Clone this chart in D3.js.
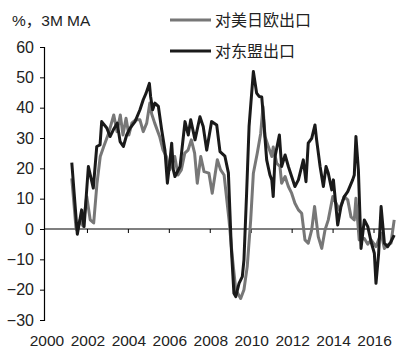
<!DOCTYPE html>
<meta charset="utf-8">
<style>
  body { margin: 0; background: #fff; }
  text { font-family: "Liberation Sans", Arial, "Noto Sans CJK SC", sans-serif; fill: #222; }
  .cjk { font-family: "Noto Sans CJK SC", sans-serif; }
</style>
<script src="https://d3js.org/d3.v7.min.js"></script>
<body>
<script>
// series: decimal year -> % yoy (3M MA)
var usJpEuYears = [2001.26, 2001.47, 2001.54, 2001.66, 2001.81, 2001.99, 2002.16, 2002.33, 2002.49, 2002.65,
  2002.82, 2003.06, 2003.31, 2003.47, 2003.63, 2003.76, 2003.91, 2004.05, 2004.20, 2004.39, 2004.59, 2004.75,
  2004.92, 2005.07, 2005.16, 2005.31, 2005.55, 2005.72, 2005.88, 2006.04, 2006.29, 2006.45, 2006.61, 2006.78,
  2006.94, 2007.10, 2007.26, 2007.39, 2007.56, 2007.72, 2007.96, 2008.12, 2008.37, 2008.53, 2008.70, 2008.94,
  2009.10, 2009.27, 2009.51, 2009.67, 2009.83, 2010.00, 2010.13, 2010.32, 2010.49, 2010.60, 2010.70, 2010.86,
  2011.03, 2011.10, 2011.27, 2011.43, 2011.51, 2011.68, 2011.84, 2012.00, 2012.16, 2012.33, 2012.49, 2012.65,
  2012.81, 2012.98, 2013.12, 2013.30, 2013.47, 2013.63, 2013.79, 2014.01, 2014.17, 2014.33, 2014.57, 2014.74,
  2014.90, 2015.06, 2015.14, 2015.30, 2015.55, 2015.72, 2015.88, 2016.12, 2016.37, 2016.53, 2016.69, 2016.85,
  2017.01];
var usJpEuVals = [16.7, 0, -0.5, 3, 1, 10.7, 3, 2, 15, 23.9,
  27.2, 31.6, 37.6, 32.1, 37.6, 31, 36.5, 31, 35, 36, 36, 32.1,
  34.9, 41.5, 38, 34.9, 30.5, 26, 23.9, 19.5, 23.9, 17.8, 19.5, 25,
  26, 29.4, 25, 15.1, 23.9, 18.9, 18.4, 11.8, 22.8, 19.5, 17.8, 3,
  -9.1, -20, -22.9, -20, -12.4, 3, 18.4, 25, 31.6, 40.4, 30.5, 27.2,
  23.9, 27, 21.7, 20.6, 15.1, 17.3, 14, 11.8, 8.5, 6.3, 5.2, -3.6,
  -4.7, -0.3, 7.4, -2.5, -6.4, -0.3, 3, 10.7, 8.5, 6.3, 10.7, 9.6,
  4, 3, 10.1, -3.6, -3.1, -5, -3.6, -5.8, -1.4, -6.4, -5.3, -4.7,
  3];

var aseanYears = [2001.26, 2001.53, 2001.74, 2001.86, 2002.07, 2002.31, 2002.48, 2002.64, 2002.72, 2002.97,
  2003.13, 2003.29, 2003.48, 2003.62, 2003.78, 2003.94, 2004.10, 2004.35, 2004.59, 2004.75, 2004.89, 2005.05,
  2005.11, 2005.21, 2005.32, 2005.49, 2005.65, 2005.81, 2005.93, 2006.06, 2006.14, 2006.22, 2006.30, 2006.55,
  2006.79, 2006.95, 2007.07, 2007.28, 2007.52, 2007.68, 2007.85, 2008.09, 2008.34, 2008.50, 2008.74, 2008.91,
  2009.05, 2009.18, 2009.27, 2009.43, 2009.59, 2009.67, 2009.80, 2009.92, 2010.13, 2010.29, 2010.41, 2010.54,
  2010.62, 2010.78, 2010.94, 2011.03, 2011.10, 2011.19, 2011.40, 2011.51, 2011.68, 2011.84, 2012.00, 2012.16,
  2012.33, 2012.49, 2012.57, 2012.70, 2012.81, 2012.98, 2013.14, 2013.22, 2013.39, 2013.55, 2013.68, 2013.79,
  2013.96, 2014.04, 2014.25, 2014.41, 2014.57, 2014.74, 2014.98, 2015.06, 2015.14, 2015.26, 2015.39, 2015.55,
  2015.72, 2015.88, 2016.04, 2016.12, 2016.25, 2016.37, 2016.53, 2016.69, 2016.85, 2017.01];
var aseanVals = [21.9, -1.7, 6.3, 0.8, 20.6, 13.5, 27.2, 27.7, 35.4, 33.3,
  30.5, 32.7, 34.9, 28.8, 27.2, 31, 33.2, 35.4, 39.3, 42.6, 44.8, 48,
  43.7, 39.3, 41.5, 40.4, 32.7, 26, 15.1, 22.8, 28.3, 19.5, 17.3, 20.6,
  35.4, 31, 36, 29.4, 37, 33.8, 26, 35.4, 34.3, 25.5, 24, 18.5,
  -5.8, -21.2, -22.3, -17.9, -15.7, -10.2, 11.8, 33.8, 51.9, 44.8, 43.7, 43.5,
  37, 22.8, 17.8, 16.2, 10.7, 23.9, 31, 20.6, 24.4, 20.6, 17.3, 14,
  16.2, 20.6, 22.8, 15.6, 28.3, 29.9, 34.3, 29.4, 20.6, 14, 20.6, 18.4,
  12.9, 16.2, 1.3, 7.4, 10.7, 12.3, 16.2, 17.8, 30.5, 19.5, -6.4, 3,
  0.8, -4.2, -8, -17.9, -8, 7.4, -4.7, -5.8, -4.2, -2];

var yTicks = [60, 50, 40, 30, 20, 10, 0, -10, -20, -30];
var xTicks = [2000, 2002, 2004, 2006, 2008, 2010, 2012, 2014, 2016];
var seriesNames = ["对美日欧出口", "对东盟出口"];
var unitLabel = "%，3M MA";

var width = 408, height = 360;

var svg = d3.select("body").append("svg")
    .attr("width", width)
    .attr("height", height);

var x = d3.scaleLinear().domain([2000, 2017]).range([46, 394]);
var y = d3.scaleLinear().domain([-30, 60]).range([320, 47]);

// y axis
var yAxis = svg.append("g")
    .attr("transform", "translate(44,0)")
    .call(d3.axisLeft(y).tickValues(yTicks).tickSize(4).tickPadding(6));
yAxis.select(".domain").attr("stroke", "#000").attr("stroke-width", 1.2);
yAxis.selectAll(".tick line").attr("stroke", "#000");
yAxis.selectAll("text").style("font-size", "16px").attr("fill", "#222");

// x axis on zero line
var xAxis = svg.append("g")
    .attr("transform", "translate(0," + y(0) + ")")
    .call(d3.axisBottom(x).tickValues(xTicks.slice(1)).tickSize(4).tickFormat(""));
xAxis.select(".domain").attr("d", "M44,0H394").attr("stroke", "#000").attr("stroke-width", 1.2);
xAxis.selectAll(".tick line").attr("stroke", "#000");

// year labels along the bottom
svg.append("g").selectAll("text")
    .data(xTicks)
    .enter().append("text")
    .attr("x", function(d) { return x(d) + 1; })
    .attr("y", 346)
    .attr("text-anchor", "middle")
    .style("font-size", "15.5px")
    .text(function(d) { return d; });

var line = d3.line()
    .x(function(d) { return x(d[0]); })
    .y(function(d) { return y(d[1]); });

var gray = d3.zip(usJpEuYears, usJpEuVals);
var black = d3.zip(aseanYears, aseanVals);

svg.append("path")
    .datum(gray)
    .attr("d", line)
    .attr("fill", "none")
    .attr("stroke", "#777")
    .attr("stroke-width", 3)
    .attr("stroke-linejoin", "round");

svg.append("path")
    .datum(black)
    .attr("d", line)
    .attr("fill", "none")
    .attr("stroke", "#1a1a1a")
    .attr("stroke-width", 3)
    .attr("stroke-linejoin", "round");

// unit label + legend
svg.append("text")
    .attr("x", 12)
    .attr("y", 26)
    .style("font-size", "15.5px")
    .text(unitLabel);

var legendColors = ["#777", "#1a1a1a"];
var legend = svg.append("g").selectAll("g")
    .data(seriesNames)
    .enter().append("g")
    .attr("transform", function(d, i) { return "translate(170," + (20 + i * 31) + ")"; });

legend.append("line")
    .attr("x1", 0).attr("x2", 41)
    .attr("stroke", function(d, i) { return legendColors[i]; })
    .attr("stroke-width", 3);

legend.append("text")
    .attr("class", "cjk")
    .attr("x", 45)
    .attr("y", 6)
    .style("font-size", "16px")
    .text(function(d) { return d; });
</script>
</body>
